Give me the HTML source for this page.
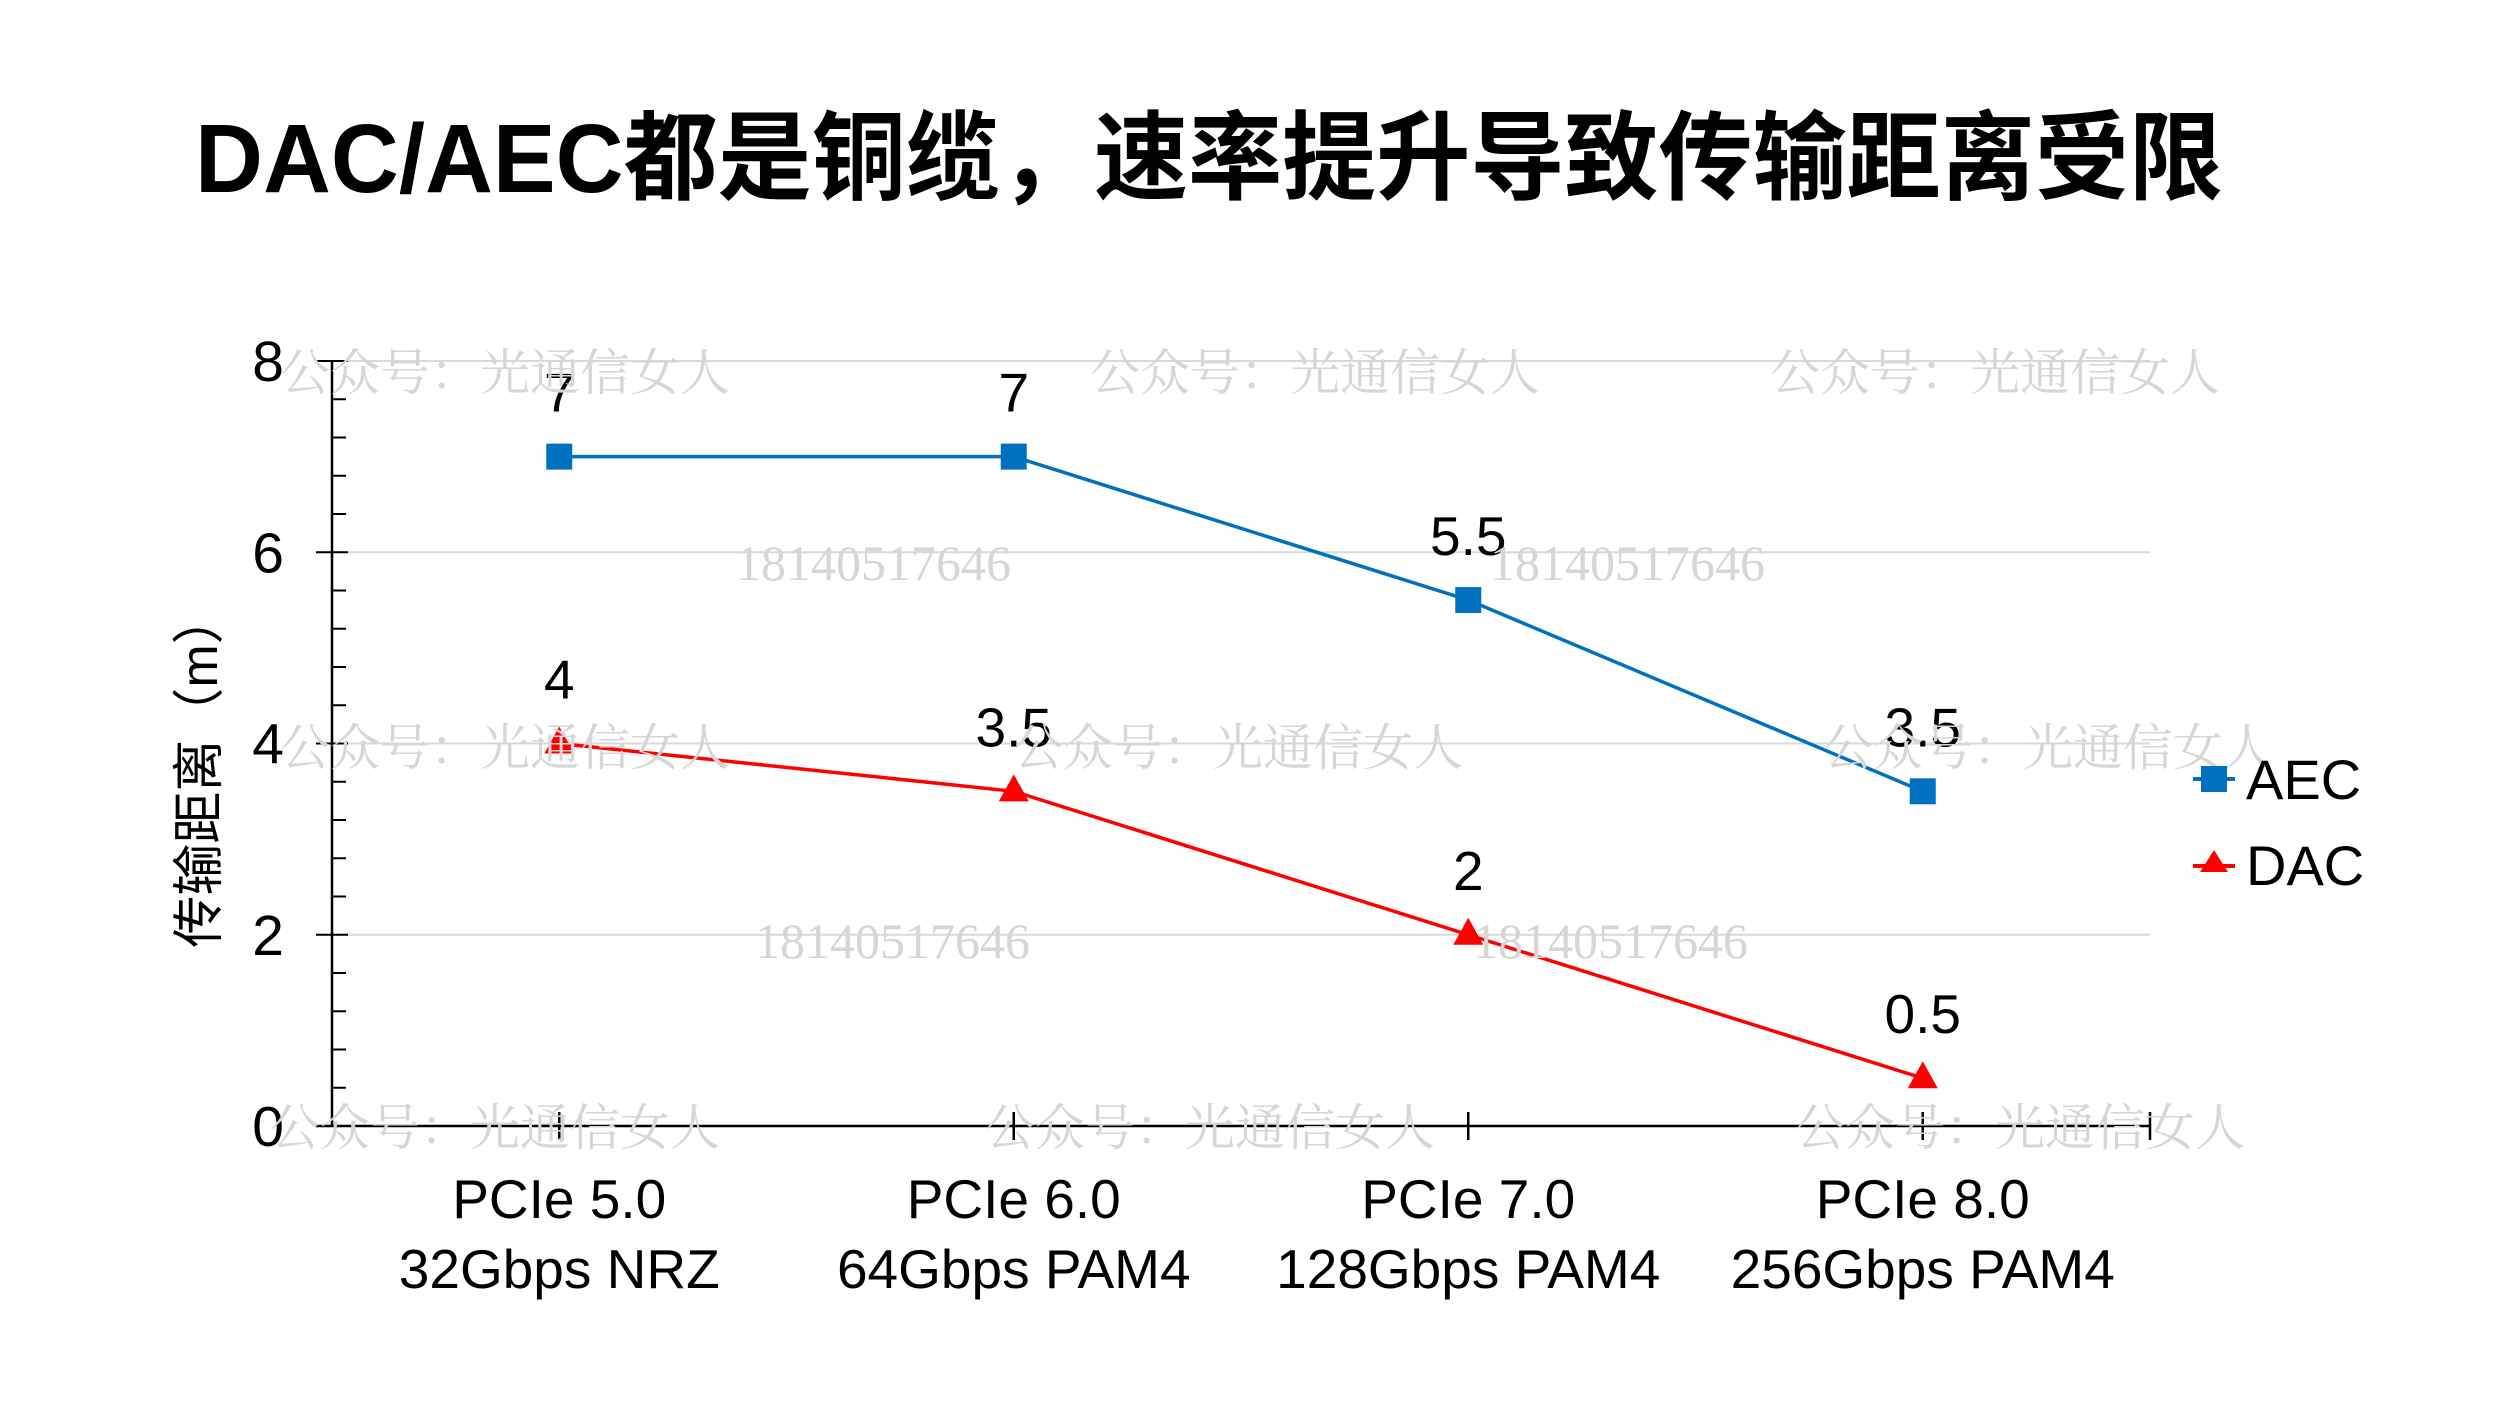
<!DOCTYPE html>
<html><head><meta charset="utf-8"><style>
html,body{margin:0;padding:0;background:#fff;}
svg{display:block;}
text{font-family:"Liberation Sans","Noto Sans CJK SC",sans-serif;}
.wm{font-family:"Liberation Serif","Noto Serif CJK SC",serif;fill:#d6d6d6;font-size:50px;}
</style></head><body>
<svg id="chart" width="2500" height="1406" viewBox="0 0 2500 1406">
<text x="195" y="192" font-size="97" font-weight="bold" fill="#000" textLength="2028" lengthAdjust="spacingAndGlyphs">DAC/AEC都是铜缆，速率提升导致传输距离受限</text>
<g id="grid"></g>
<g id="axes"></g>
<text transform="translate(217,770) rotate(-90)" text-anchor="middle" font-size="52" fill="#000">传输距离（m）</text>
<g id="series"></g>
<g id="wm"></g>
<g>
 <g>
  <line x1="2193" y1="779" x2="2235" y2="779" stroke="#0070c0" stroke-width="4"/>
  <rect x="2201" y="766" width="26" height="26" fill="#0070c0"/>
  <text x="2246" y="799" font-size="56" fill="#000">AEC</text>
 </g>
 <g>
  <line x1="2193" y1="866" x2="2235" y2="866" stroke="#ff0000" stroke-width="4"/>
  <polygon points="2214,850 2228,872 2200,872" fill="#ff0000"/>
  <text x="2246" y="885" font-size="56" fill="#000">DAC</text>
 </g>
</g>
</svg>
<script>
const categories1 = ["PCIe 5.0","PCIe 6.0","PCIe 7.0","PCIe 8.0"];
const categories2 = ["32Gbps NRZ","64Gbps PAM4","128Gbps PAM4","256Gbps PAM4"];
const aecValues = [7,7,5.5,3.5];
const dacValues = [4,3.5,2,0.5];
const aecLabels = ["7","7","5.5","3.5"];
const dacLabels = ["4","3.5","2","0.5"];
const yTicks = [0,2,4,6,8];

const NS="http://www.w3.org/2000/svg";
const X0=332,X1=2150,Y0=1126,Y8=361,YMAX=8;
const band=(X1-X0)/categories1.length;
function xs(i){return X0+band*(i+0.5);}
function ys(v){return Y0-(Y0-Y8)*v/YMAX;}
function mk(tag,attrs,parent){const e=document.createElementNS(NS,tag);for(const k in attrs)e.setAttribute(k,attrs[k]);parent.appendChild(e);return e;}
const grid=document.getElementById('grid'),axes=document.getElementById('axes'),ser=document.getElementById('series'),wm=document.getElementById('wm');

yTicks.forEach(t=>{
  if(t>0){const g=mk('line',{x1:X0,x2:X1,y1:ys(t),y2:ys(t),stroke:'#d9d9d9','stroke-width':2},grid);
  
  }
  const tk=mk('line',{x1:X0-16,x2:X0+16,y1:ys(t),y2:ys(t),stroke:'#000','stroke-width':2},axes);
  
  
  const lb=mk('text',{x:X0-48,y:ys(t)+20,'text-anchor':'end','font-size':57,fill:'#000'},axes);
  lb.textContent=t;
  
  
});
for(let v=0.4;v<YMAX-0.01;v+=0.4){
  if(Math.abs(v/2-Math.round(v/2))<0.01)continue;
  const m=mk('line',{x1:X0,x2:X0+14,y1:ys(v),y2:ys(v),stroke:'#000','stroke-width':2},axes);
  
  
}
const ya=mk('line',{x1:X0,x2:X0,y1:Y8,y2:Y0,stroke:'#000','stroke-width':2.5},axes);


const xa=mk('line',{x1:X0-16,x2:X1,y1:Y0,y2:Y0,stroke:'#000','stroke-width':2.5},axes);


categories1.forEach((c,i)=>{
  const t=mk('line',{x1:xs(i),x2:xs(i),y1:Y0-14,y2:Y0+14,stroke:'#000','stroke-width':2.5},axes);
  
  
  const a=mk('text',{x:xs(i),y:1218,'text-anchor':'middle','font-size':55,fill:'#000'},axes);
  a.textContent=c;
  
  
  const b=mk('text',{x:xs(i),y:1288,'text-anchor':'middle','font-size':55,fill:'#000'},axes);
  b.textContent=categories2[i];
  
  
});
const et=mk('line',{x1:X1,x2:X1,y1:Y0-14,y2:Y0+14,stroke:'#000','stroke-width':2.5},axes);



function drawSeries(vals,labels,color,shape,name){
  const pts=vals.map((v,i)=>xs(i)+','+ys(v)).join(' ');
  const pl=mk('polyline',{points:pts,fill:'none',stroke:color,'stroke-width':3.5},ser);
  
  
  vals.forEach((v,i)=>{
    const x=xs(i),y=ys(v);let m;
    if(shape==='sq') m=mk('rect',{x:x-13,y:y-13,width:26,height:26,fill:color},ser);
    else m=mk('polygon',{points:`${x},${y-17} ${x+15},${y+10} ${x-15},${y+10}`,fill:color},ser);
    
    
    const l=mk('text',{x:x,y:y-45,'text-anchor':'middle','font-size':55,fill:'#000'},ser);
    l.textContent=labels[i];
    
    
  });
}
drawSeries(aecValues,aecLabels,'#0070c0','sq','aec');
drawSeries(dacValues,dacLabels,'#ff0000','tri','dac');

const wmText=[["公众号：光通信女人",280,390],["公众号：光通信女人",1090,390],["公众号：光通信女人",1770,390],
 ["18140517646",736,580],["18140517646",1490,580],
 ["公众号：光通信女人",280,765],["公众号：光通信女人",1013,765],["公众号：光通信女人",1823,765],
 ["18140517646",755,958],["18140517646",1473,958],
 ["公众号：光通信女人",270,1145],["公众号：光通信女人",985,1145],["公众号：光通信女人",1795,1145]];
wmText.forEach(w=>{
  const t=mk('text',{x:w[1],y:w[2],class:'wm'},wm);
  t.textContent=w[0];
  
  
});
</script>
</body></html>
